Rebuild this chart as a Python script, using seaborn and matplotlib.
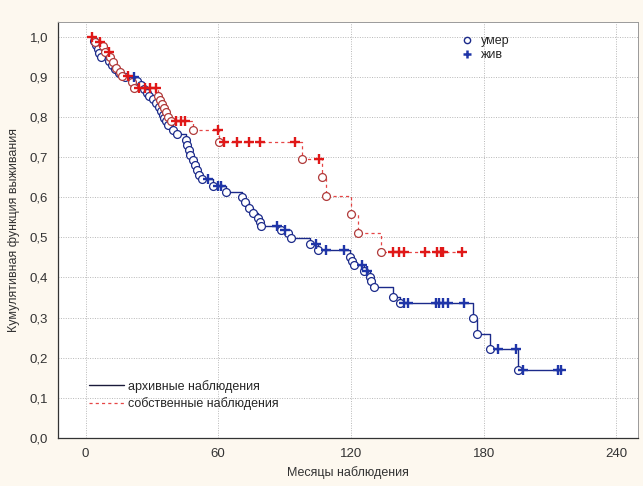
import numpy as np
import pandas as pd
import matplotlib
matplotlib.use("Agg")
import matplotlib.pyplot as plt
from matplotlib.lines import Line2D
import seaborn as sns

# Archive cohort: deaths (time, survival after the step) and censored cases
arch_start = 3.0
arch_event_t = [4.0, 4.8, 5.5, 6.3, 7.2, 10.5, 12.0, 13.5, 15.0, 18.0, 23.5, 25.0, 26.5, 27.8,
                28.9, 30.4, 32.0, 33.1, 34.2, 35.2, 35.7, 36.5, 37.2, 39.5, 41.3, 45.5, 46.0,
                46.6, 47.3, 48.5, 49.3, 50.3, 51.5, 52.8, 57.8, 63.6, 70.8, 72.3, 73.8, 75.6,
                77.9, 78.7, 79.4, 88.5, 91.5, 93.0, 101.3, 105.0, 119.7, 120.6, 121.2, 126.1,
                128.4, 129.2, 130.3, 138.9, 142.0, 175.1, 177.2, 183.0, 195.5]
arch_event_s = [0.99, 0.98, 0.97, 0.96, 0.95, 0.94, 0.93, 0.92, 0.91, 0.90, 0.89, 0.88, 0.87, 0.86,
                0.853, 0.845, 0.835, 0.825, 0.816, 0.806, 0.797, 0.789, 0.781, 0.768, 0.758, 0.743,
                0.730, 0.718, 0.706, 0.693, 0.681, 0.668, 0.656, 0.646, 0.628, 0.614, 0.600, 0.587,
                0.573, 0.560, 0.548, 0.537, 0.527, 0.519, 0.510, 0.499, 0.484, 0.469, 0.452, 0.442,
                0.431, 0.415, 0.402, 0.390, 0.375, 0.352, 0.336, 0.298, 0.259, 0.222, 0.168]
arch_cens_t = [22.0, 55.5, 59.8, 61.3, 86.5, 90.0, 104.3, 108.8, 117.0, 125.0, 127.3, 144.2,
               145.7, 158.5, 160.0, 161.5, 163.8, 170.9, 186.4, 194.4, 197.7, 213.8, 214.8]
arch_cens_s = [0.90, 0.646, 0.628, 0.628, 0.527, 0.519, 0.484, 0.469, 0.469, 0.431, 0.415, 0.336,
               0.336, 0.336, 0.336, 0.336, 0.336, 0.336, 0.222, 0.222, 0.168, 0.168, 0.168]

# Own cohort
own_start = 3.0
own_event_t = [4.1, 7.8, 9.0, 11.2, 12.3, 13.6, 15.7, 16.3, 20.8, 21.7, 32.7, 33.5, 34.5, 35.5,
               36.5, 37.5, 38.5, 48.5, 60.2, 98.0, 107.0, 108.5, 120.0, 123.0, 133.5]
own_event_s = [0.988, 0.976, 0.963, 0.949, 0.936, 0.922, 0.913, 0.903, 0.888, 0.872, 0.852, 0.842,
               0.832, 0.822, 0.812, 0.801, 0.791, 0.768, 0.738, 0.696, 0.651, 0.604, 0.559, 0.511,
               0.464]
own_cens_t = [3.0, 6.6, 10.5, 19.1, 24.4, 27.1, 29.2, 32.0, 41.0, 43.3, 45.2, 60.0, 62.8, 68.3,
              73.7, 79.0, 94.5, 105.5, 138.8, 141.5, 143.8, 153.7, 159.1, 160.5, 161.8, 170.0]
own_cens_s = [1.0, 0.988, 0.963, 0.903, 0.872, 0.872, 0.872, 0.872, 0.791, 0.791, 0.791, 0.768,
              0.738, 0.738, 0.738, 0.738, 0.738, 0.696, 0.464, 0.464, 0.464, 0.464, 0.464, 0.464,
              0.464, 0.464]

x_ticks = [0, 60, 120, 180, 240]
y_ticks = [0.0, 0.1, 0.2, 0.3, 0.4, 0.5, 0.6, 0.7, 0.8, 0.9, 1.0]
group_labels = ["архивные наблюдения", "собственные наблюдения"]
marker_labels = ["умер", "жив"]

NAVY = "#1b2a8a"
BLUE_CROSS = "#1f35a8"
RED = "#e01818"
RED_CIRCLE = "#b03a3a"


def step_frame(start, ev_t, ev_s, cens_t, cens_s):
    t = [start] + list(ev_t)
    s = [1.0] + list(ev_s)
    end_t = max(max(cens_t), t[-1])
    t.append(end_t)
    s.append(s[-1] if end_t > ev_t[-1] else ev_s[-1])
    return pd.DataFrame({"t": t, "s": s})


sns.set_style("white")
plt.rcParams["font.family"] = ["Liberation Sans", "DejaVu Sans"]

fig = plt.figure(figsize=(6.43, 4.86), dpi=100, facecolor="#fdf8ef")
ax = fig.add_axes([0.090, 0.099, 0.903, 0.856])
ax.set_facecolor("white")

arch_line = step_frame(arch_start, arch_event_t, arch_event_s, arch_cens_t, arch_cens_s)
own_line = step_frame(own_start, own_event_t, own_event_s, own_cens_t, own_cens_s)

sns.lineplot(data=arch_line, x="t", y="s", ax=ax, estimator=None, sort=False,
             drawstyle="steps-post", color=NAVY, linewidth=1.0, zorder=2)
sns.lineplot(data=own_line, x="t", y="s", ax=ax, estimator=None, sort=False,
             drawstyle="steps-post", color=RED, linewidth=0.9, linestyle=(0, (2.5, 2.5)),
             alpha=0.8, zorder=2)

# Deaths: hollow circles; censored: plus signs
sns.scatterplot(x=arch_event_t, y=arch_event_s, ax=ax, marker="o", s=32,
                facecolor="white", edgecolor=NAVY, linewidth=0.9, zorder=3)
sns.scatterplot(x=own_event_t, y=own_event_s, ax=ax, marker="o", s=32,
                facecolor="white", edgecolor=RED_CIRCLE, linewidth=0.9, zorder=4)
sns.scatterplot(x=arch_cens_t, y=arch_cens_s, ax=ax, marker="+", s=45,
                color=BLUE_CROSS, linewidth=1.7, zorder=5)
sns.scatterplot(x=own_cens_t, y=own_cens_s, ax=ax, marker="+", s=45,
                color=RED, linewidth=1.7, zorder=6)

ax.set_xlim(-12.5, 250)
ax.set_ylim(0, 1.037)
ax.set_xticks(x_ticks)
ax.set_xticklabels([str(v) for v in x_ticks])
ax.set_yticks(y_ticks)
ax.set_yticklabels([f"{v:.1f}".replace(".", ",") for v in y_ticks])
ax.tick_params(axis="both", labelsize=9.5, colors="#333333", length=3, width=0.7,
               direction="out", pad=4)
ax.grid(True, color="#b8b8b8", linestyle=(0, (1, 1.5)), linewidth=0.7)
for side in ["left", "bottom"]:
    ax.spines[side].set_color("#333333")
    ax.spines[side].set_linewidth(0.9)
for side in ["top", "right"]:
    ax.spines[side].set_color("#9a9a9a")
    ax.spines[side].set_linewidth(0.7)

ax.set_xlabel("Месяцы наблюдения", fontsize=9, color="#333333", labelpad=5)
ax.set_ylabel("Кумулятивная функция выживания", fontsize=9, color="#333333", labelpad=7)

marker_handles = [
    Line2D([], [], linestyle="none", marker="o", markersize=4.5, markerfacecolor="white",
           markeredgecolor=NAVY, markeredgewidth=1.0),
    Line2D([], [], linestyle="none", marker="+", markersize=6, color=BLUE_CROSS,
           markeredgewidth=1.8),
]
leg1 = ax.legend(marker_handles, marker_labels, loc="upper left",
                 bbox_to_anchor=(0.675, 0.995), frameon=False, fontsize=9,
                 handlelength=1.0, handletextpad=0.6, labelspacing=0.15)
ax.add_artist(leg1)

line_handles = [
    Line2D([], [], color="#1a1a3a", linewidth=1.0),
    Line2D([], [], color=RED, linewidth=0.9, linestyle=(0, (2.5, 2.5)), alpha=0.8),
]
ax.legend(line_handles, group_labels, loc="lower left", bbox_to_anchor=(0.035, 0.04),
          frameon=False, fontsize=9, handlelength=2.8, handletextpad=0.3,
          labelspacing=0.35)

fig.savefig("out.png", dpi=100, facecolor=fig.get_facecolor())
